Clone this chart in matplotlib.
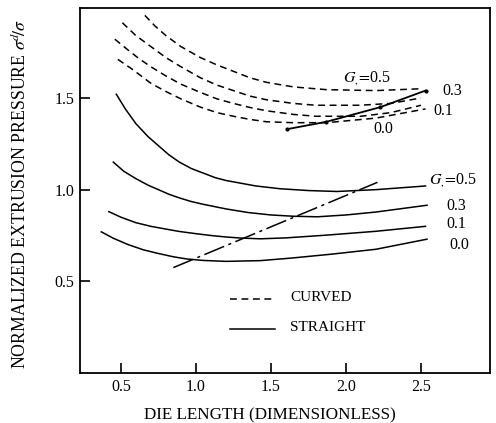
import matplotlib
matplotlib.use('Agg')
import matplotlib.pyplot as plt

plt.rcParams['font.family'] = ['Liberation Serif', 'DejaVu Serif']
plt.rcParams['mathtext.fontset'] = 'stix'

# straight dies (solid), one curve per G value
g_labels = ['0.5', '0.3', '0.1', '0.0']
st_x = [
    [0.47, 0.53, 0.6, 0.68, 0.75, 0.82, 0.89, 0.97, 1.05, 1.13, 1.2, 1.3, 1.4, 1.56, 1.75, 1.94, 2.2, 2.53],
    [0.45, 0.52, 0.6, 0.68, 0.75, 0.82, 0.89, 0.97, 1.05, 1.2, 1.35, 1.5, 1.65, 1.81, 2.0, 2.2, 2.54],
    [0.42, 0.5, 0.6, 0.7, 0.8, 0.89, 1.0, 1.1, 1.2, 1.3, 1.43, 1.6, 1.87, 2.2, 2.53],
    [0.37, 0.45, 0.55, 0.65, 0.75, 0.85, 0.94, 1.05, 1.2, 1.43, 1.65, 1.9, 2.2, 2.54],
]
st_y = [
    [1.52, 1.44, 1.36, 1.29, 1.24, 1.19, 1.15, 1.115, 1.09, 1.065, 1.05, 1.035, 1.02, 1.005, 0.995, 0.99, 1.0, 1.02],
    [1.15, 1.10, 1.06, 1.025, 1.0, 0.975, 0.955, 0.935, 0.92, 0.895, 0.875, 0.862, 0.855, 0.852, 0.862, 0.878, 0.915],
    [0.88, 0.85, 0.82, 0.80, 0.785, 0.772, 0.76, 0.75, 0.742, 0.736, 0.732, 0.737, 0.752, 0.773, 0.80],
    [0.77, 0.735, 0.70, 0.672, 0.652, 0.634, 0.622, 0.614, 0.609, 0.613, 0.628, 0.648, 0.675, 0.73],
]

# curved dies (dashed)
cv_x = [
    [0.66, 0.73, 0.8, 0.9, 1.03, 1.14, 1.25, 1.36, 1.47, 1.65, 1.87, 2.2, 2.5],
    [0.51, 0.6, 0.7, 0.8, 0.9, 1.03, 1.14, 1.25, 1.36, 1.47, 1.65, 1.8, 2.09, 2.3, 2.5],
    [0.46, 0.55, 0.62, 0.7, 0.8, 0.9, 1.03, 1.14, 1.25, 1.36, 1.47, 1.65, 1.8, 2.1, 2.3, 2.5],
    [0.48, 0.57, 0.7, 0.8, 0.9, 1.03, 1.14, 1.25, 1.36, 1.47, 1.65, 1.87, 2.2, 2.53],
]
cv_y = [
    [1.95, 1.89, 1.84, 1.78, 1.72, 1.68, 1.645, 1.61, 1.585, 1.56, 1.545, 1.54, 1.55],
    [1.91, 1.84, 1.78, 1.72, 1.67, 1.61, 1.57, 1.54, 1.51, 1.49, 1.47, 1.46, 1.46, 1.47, 1.50],
    [1.82, 1.76, 1.715, 1.67, 1.62, 1.575, 1.53, 1.495, 1.47, 1.448, 1.43, 1.41, 1.40, 1.40, 1.42, 1.46],
    [1.71, 1.66, 1.58, 1.535, 1.495, 1.45, 1.42, 1.40, 1.383, 1.37, 1.365, 1.365, 1.39, 1.44],
]

# optimum loci
opt_st_x = [0.85, 2.21]
opt_st_y = [0.575, 1.04]
opt_cv_x = [1.61, 1.87, 2.23, 2.53]
opt_cv_y = [1.33, 1.37, 1.45, 1.54]

xticks = [0.5, 1.0, 1.5, 2.0, 2.5]
yticks = [0.5, 1.0, 1.5]

fig = plt.figure(figsize=(4.96, 4.23), dpi=100)
ax = fig.add_axes([0.161, 0.118, 0.827, 0.863])

lw = 1.1
for xs, ys in zip(st_x, st_y):
    ax.plot(xs, ys, color='black', lw=lw, solid_joinstyle='round')
for xs, ys in zip(cv_x, cv_y):
    ax.plot(xs, ys, color='black', lw=lw, linestyle=(0, (4.5, 3)))

ax.plot(opt_st_x, opt_st_y, color='black', lw=lw, linestyle=(0, (14, 3, 2, 3)))
ax.plot(opt_cv_x, opt_cv_y, color='black', lw=1.3, marker='.', markersize=4)

# curve labels
cv_lab_pos = [(2.14, 1.61), (2.64, 1.54), (2.58, 1.43), (2.25, 1.33)]
st_lab_pos = [(2.55, 1.055), (2.67, 0.91), (2.67, 0.81), (2.69, 0.70)]
for i, g in enumerate(g_labels):
    txt = r'$G_{,}\!=\!$' + g if i == 0 else g
    ax.text(cv_lab_pos[i][0], cv_lab_pos[i][1], txt, fontsize=11.5,
            ha='left' if i in (1, 2) else 'center', va='center')
    ax.text(st_lab_pos[i][0], st_lab_pos[i][1], txt, fontsize=11.5,
            ha='left', va='center')

# legend drawn by hand like the original
ax.plot([1.23, 1.53], [0.405, 0.405], color='black', lw=lw, linestyle=(0, (4.5, 3)))
ax.plot([1.23, 1.53], [0.24, 0.24], color='black', lw=lw)
ax.text(1.63, 0.41, 'CURVED', fontsize=11, va='center')
ax.text(1.63, 0.25, 'STRAIGHT', fontsize=11, va='center')

ax.set_xlim(0.227, 2.96)
ax.set_ylim(0.0, 1.99)
ax.set_xticks(xticks)
ax.set_xticklabels(['0.5', '1.0', '1.5', '2.0', '2.5'])
ax.set_yticks(yticks)
ax.set_yticklabels(['0.5', '1.0', '1.5'])
ax.tick_params(direction='in', length=7, width=1.2, labelsize=11.5, pad=4)
for s in ax.spines.values():
    s.set_linewidth(1.3)

ax.set_xlabel('DIE LENGTH (DIMENSIONLESS)', fontsize=12.3, labelpad=7)
ax.xaxis.set_label_coords(0.463, -0.095)
ax.set_ylabel(r'NORMALIZED EXTRUSION PRESSURE $\sigma^{d}\!/\sigma$', fontsize=12.8)
ax.yaxis.set_label_coords(-0.122, 0.49)

fig.savefig('out.png', dpi=100)
